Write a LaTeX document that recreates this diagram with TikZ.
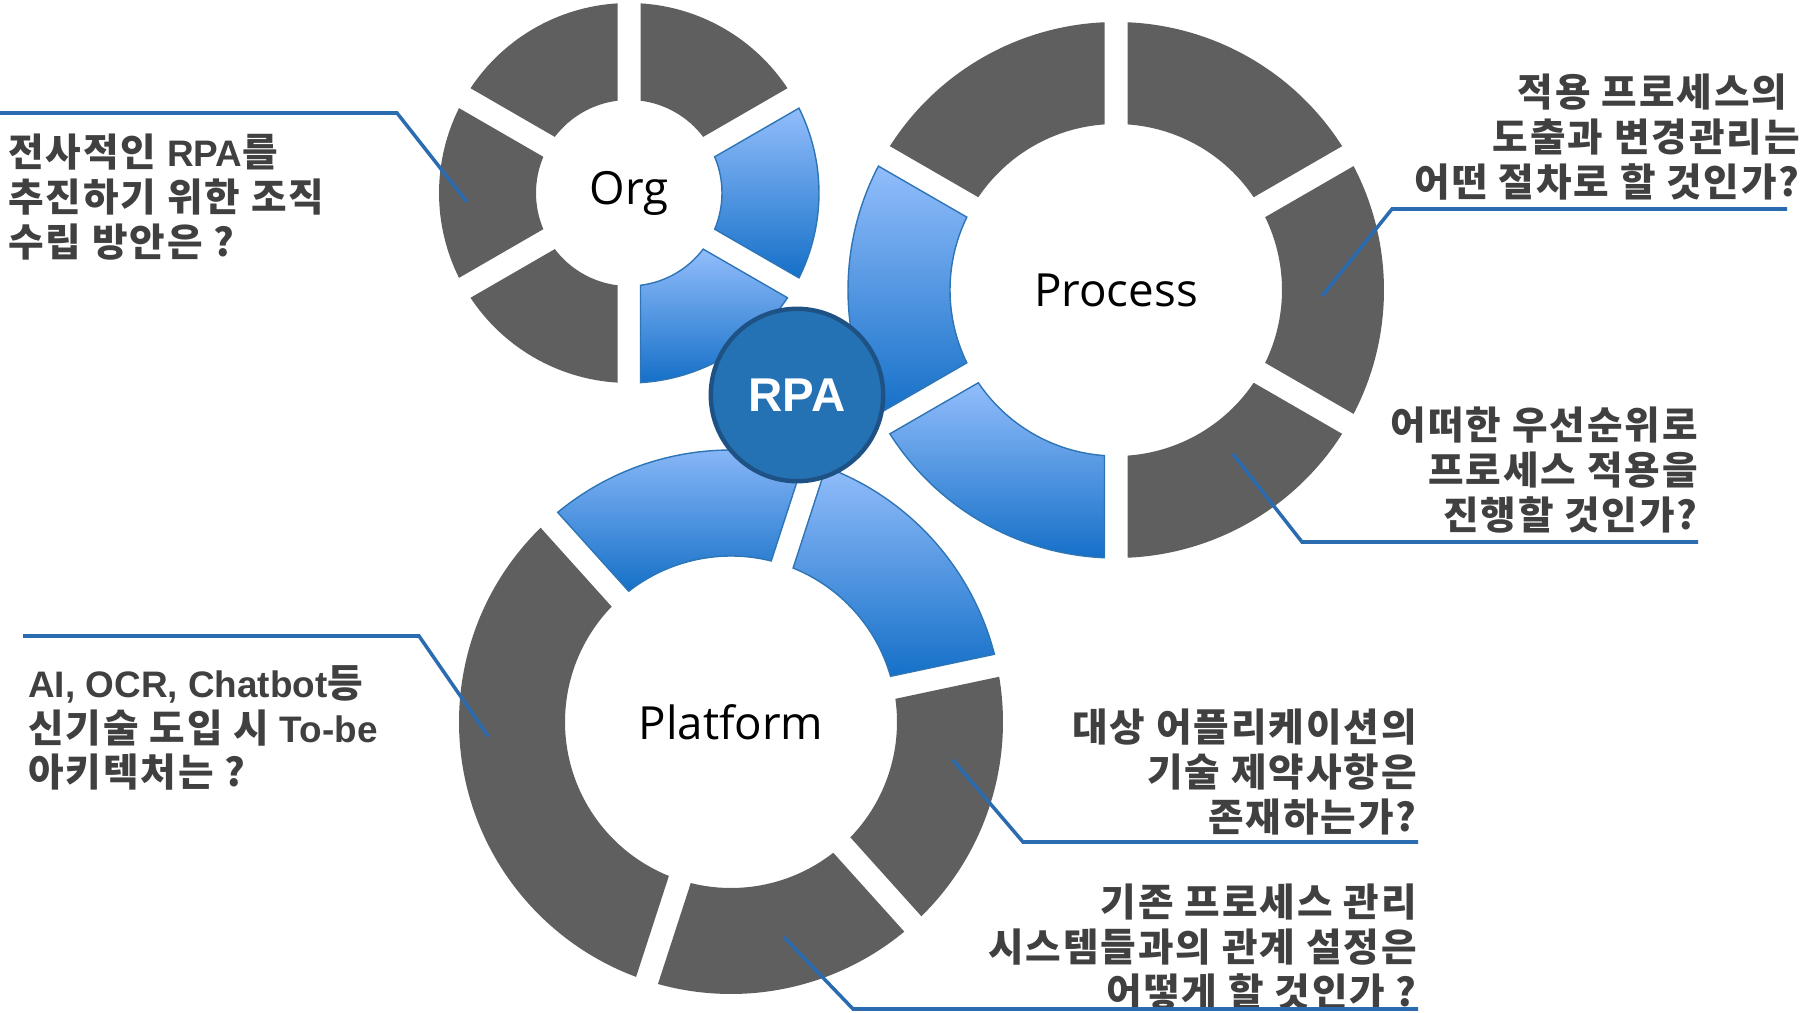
\documentclass[tikz,border=0pt]{standalone}
\usepackage{fontspec}
\usepackage{tikz}
\usetikzlibrary{calc}
\usetikzlibrary{backgrounds}
\setmainfont{Open Sans}
\newfontfamily\kofont{Noto Sans CJK KR}[LetterSpace=5]
\newfontfamily\rpafont{Liberation Sans}
\newcommand{\lat}[1]{{\rpafont\bfseries\fontsize{21}{25.5}\selectfont #1}}

\definecolor{seggray}{HTML}{5F5F5F}
\definecolor{qgray}{HTML}{404040}
\definecolor{segtop}{HTML}{92BDFB}
\definecolor{segbot}{HTML}{1570C8}
\definecolor{segline}{HTML}{2E75B6}
\definecolor{leadblue}{HTML}{2B6CB0}
\definecolor{rpafill}{HTML}{2471B3}
\definecolor{rpaline}{HTML}{1F5284}

\newcommand{\ringseg}[6]{%
  \pgfmathsetmacro\sgoa{#5+asin(11.5/#4)}%
  \pgfmathsetmacro\sgob{#6-asin(11.5/#4)}%
  \pgfmathsetmacro\sgia{#5+asin(11.5/#3)}%
  \pgfmathsetmacro\sgib{#6-asin(11.5/#3)}%
  \path[#1] ($(#2)+(\sgoa:#4)$) arc[start angle=\sgoa, end angle=\sgob, radius={#4*0.02cm}]
    -- ($(#2)+(\sgib:#3)$) arc[start angle=\sgib, end angle=\sgia, radius={#3*0.02cm}] -- cycle;
}

\begin{document}
\begin{tikzpicture}[x=0.02cm, y=0.02cm,
    grayseg/.style = {fill=seggray},
    blueseg/.style = {top color=segtop, bottom color=segbot, draw=segline, line width=0.8pt},
    ringlabel/.style = {font=\fontsize{26}{30}\selectfont, text=black},
    question/.style = {inner sep=0pt, text=qgray, font=\kofont\bfseries\fontsize{22}{25.5}\selectfont},
    leader/.style = {draw=leadblue, line width=2pt},
    hub/.style = {circle, fill=rpafill, draw=rpaline, line width=2.5pt, minimum size=3.45cm,
            text=white, font=\rpafont\bfseries\fontsize{27}{27}\selectfont}]
    \useasboundingbox (0,0) rectangle (1800,1012);
    \coordinate (org) at (629,819);
    \coordinate (proc) at (1116,722);
    \coordinate (plat) at (731,290);

    \foreach \a in {30,90,150,210} {\ringseg{grayseg}{org}{93}{190}{\a}{\a+60}}
    \foreach \a in {-90,-30} {\ringseg{blueseg}{org}{93}{190}{\a}{\a+60}}
    \foreach \a in {-90,-30,30,90} {\ringseg{grayseg}{proc}{166}{268}{\a}{\a+60}}
    \foreach \a in {150,210} {\ringseg{blueseg}{proc}{166}{268}{\a}{\a+60}}
    \ringseg{grayseg}{plat}{166}{272}{132}{252}
    \foreach \a in {252,312} {\ringseg{grayseg}{plat}{166}{272}{\a}{\a+60}}
    \foreach \a in {12,72} {\ringseg{blueseg}{plat}{166}{272}{\a}{\a+60}}

    \node [ringlabel] (orgname) at (org) {Org};
    \node [ringlabel] (procname) at (proc) {Process};
    \node [ringlabel] (platname) at (plat) {Platform};
    \node [hub] (rpa) at (797,617) {RPA};

    \node [question, anchor=west, align=left] (orgq) at (8,815)
        {전사적인 \lat{RPA}를\\추진하기 위한 조직\\수립 방안은 ?};
    \node [question, anchor=east, align=right] (procq1) at (1800,875)
        {적용 프로세스의\hspace*{7pt}\\도출과 변경관리는\hspace*{7pt}\\어떤 절차로 할 것인가?};
    \node [question, anchor=east, align=right] (procq2) at (1698,542)
        {어떠한 우선순위로\\프로세스 적용을\\진행할 것인가?};
    \node [question, anchor=west, align=left] (platq1) at (28,284)
        {\lat{AI, OCR, Chatbot}등\\신기술 도입 시 \lat{To-be}\\아키텍처는 ?};
    \node [question, anchor=east, align=right] (platq2) at (1417,240)
        {대상 어플리케이션의\\기술 제약사항은\\존재하는가?};
    \node [question, anchor=east, align=right] (platq3) at (1417,65)
        {기존 프로세스 관리\\시스템들과의 관계 설정은\\어떻게 할 것인가 ?};

    \coordinate (orgpin) at (467,810);
    \coordinate (orgbend) at (397,899);
    \coordinate (orgend) at (0,899);
    \coordinate (procpin1) at (1322,716);
    \coordinate (procbend1) at (1392,803);
    \coordinate (procend1) at (1787,803);
    \coordinate (procpin2) at (1233,558);
    \coordinate (procbend2) at (1302,470);
    \coordinate (procend2) at (1698,470);
    \coordinate (platpin1) at (488,276);
    \coordinate (platbend1) at (419,376);
    \coordinate (platend1) at (23,376);
    \coordinate (platpin2) at (953,252);
    \coordinate (platbend2) at (1023,170);
    \coordinate (platend2) at (1418,170);
    \coordinate (platpin3) at (784,75);
    \coordinate (platbend3) at (853,3);
    \coordinate (platend3) at (1418,3);

    \draw [leader] (orgpin) -- (orgbend) -- (orgend);
    \draw [leader] (procpin1) -- (procbend1) -- (procend1);
    \draw [leader] (procpin2) -- (procbend2) -- (procend2);
    \draw [leader] (platpin1) -- (platbend1) -- (platend1);
    \draw [leader] (platpin2) -- (platbend2) -- (platend2);
    \draw [leader] (platpin3) -- (platbend3) -- (platend3);
\end{tikzpicture}
\end{document}
